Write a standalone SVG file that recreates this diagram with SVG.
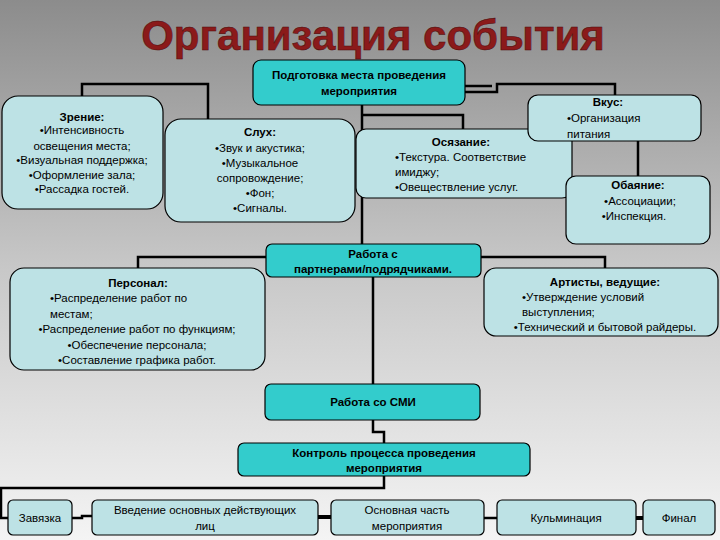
<svg xmlns="http://www.w3.org/2000/svg" width="720" height="540" viewBox="0 0 720 540">
<defs>
<linearGradient id="bg" x1="0" y1="0" x2="0" y2="1">
<stop offset="0" stop-color="#8c8c8c"/><stop offset="0.5" stop-color="#c8c8c8"/><stop offset="1" stop-color="#f4f4f4"/>
</linearGradient>
<style>
.t{font-family:"Liberation Sans",Arial,sans-serif;font-size:11.5px;fill:#000;text-anchor:middle}
.s{text-anchor:start}
.b{font-weight:bold}
.lt{fill:#bde2e5;stroke:#000;stroke-width:1.2}
.dk{fill:#33cccc;stroke:#000;stroke-width:1.2}
.c{fill:none;stroke:#000;stroke-width:2.5}
</style>
</defs>
<rect width="720" height="540" fill="url(#bg)"/>
<text x="373" y="50" font-family="Liberation Sans,Arial,sans-serif" font-size="42" font-weight="bold" fill="#8b1a1a" stroke="#4a0a0a" stroke-width="0.5" text-anchor="middle">Организация события</text>
<g id="connectors" class="c">
<polyline points="82,96 82,84 208,84 208,119"/>
<polyline points="362,105 362,244"/>
<polyline points="362,115 463,115 463,129"/>
<polyline points="465,92 497,92 497,84 615,84 615,95"/>
<polyline points="465,86 492,86"/>
<polyline points="638,141 638,176"/>
<polyline points="266,257 138,257 138,268"/>
<polyline points="481,257 605,257 605,268"/>
<polyline points="373,277 373,384"/>
<polyline points="373,420 373,432 384,432 384,443"/>
<polyline points="384,476 384,488 1,488 1,518 8,518"/>
<polyline points="72,518 82,518 82,516 92,516"/>
<polyline points="318,517 331,517" stroke-width="4"/>
<polyline points="484,518 497,518"/>
<polyline points="636,518 643,518" stroke-width="4"/>
</g>
<g id="top"><rect class="dk" x="253" y="60" width="212" height="45" rx="8"/><text class="t b" x="359" y="79">Подготовка места проведения</text><text class="t b" x="359" y="95">мероприятия</text></g>
<g id="zrenie"><rect class="lt" x="2" y="96" width="161" height="113" rx="16"/><text class="t b" x="82" y="121">Зрение:</text><text class="t" font-size="10.5"><tspan x="82" y="134">•Интенсивность</tspan><tspan x="82" y="150">освещения места;</tspan><tspan x="82" y="164">•Визуальная поддержка;</tspan><tspan x="82" y="179">•Оформление зала;</tspan><tspan x="82" y="193">•Рассадка гостей.</tspan></text></g>
<g id="sluh"><rect class="lt" x="165" y="119" width="190" height="103" rx="16"/><text class="t b" x="260" y="136">Слух:</text><text class="t"><tspan x="260" y="152">•Звук и акустика;</tspan><tspan x="260" y="167">•Музыкальное</tspan><tspan x="260" y="182">сопровождение;</tspan><tspan x="260" y="197">•Фон;</tspan><tspan x="260" y="212">•Сигналы.</tspan></text></g>
<g id="osyazanie"><rect class="lt" x="356" y="129" width="216" height="69" rx="10"/><text class="t b" x="461" y="146">Осязание:</text><text class="t s"><tspan x="395" y="161">•Текстура. Соответствие</tspan><tspan x="395" y="176">имиджу;</tspan><tspan x="395" y="191">•Овеществление услуг.</tspan></text></g>
<g id="vkus"><rect class="lt" x="528" y="95" width="173" height="46" rx="10"/><text class="t b" x="608" y="106">Вкус:</text><text class="t s"><tspan x="567" y="122">•Организация</tspan><tspan x="567" y="138">питания</tspan></text></g>
<g id="obayanie"><rect class="lt" x="566" y="176" width="144" height="68" rx="10"/><text class="t b" x="638" y="189">Обаяние:</text><text class="t"><tspan x="640" y="205">•Ассоциации;</tspan><tspan x="634" y="220">•Инспекция.</tspan></text></g>
<g id="partnery"><rect class="dk" x="266" y="244" width="215" height="33" rx="6"/><text class="t b" x="373" y="258">Работа с</text><text class="t b" x="373" y="273">партнерами/подрядчиками.</text></g>
<g id="personal"><rect class="lt" x="10" y="268" width="255" height="102" rx="14"/><text class="t b" x="138" y="287">Персонал:</text><text class="t s"><tspan x="50" y="302">•Распределение работ по</tspan><tspan x="50" y="318">местам;</tspan></text><text class="t"><tspan x="137" y="333">•Распределение работ по функциям;</tspan><tspan x="137" y="349">•Обеспечение персонала;</tspan><tspan x="137" y="364">•Составление графика работ.</tspan></text></g>
<g id="artisty"><rect class="lt" x="484" y="268" width="234" height="68" rx="12"/><text class="t b" x="605" y="286">Артисты, ведущие:</text><text class="t s"><tspan x="522" y="301">•Утверждение условий</tspan><tspan x="522" y="316">выступления;</tspan></text><text class="t" x="605" y="331">•Технический и бытовой райдеры.</text></g>
<g id="smi"><rect class="dk" x="265" y="384" width="215" height="36" rx="6"/><text class="t b" x="373" y="406">Работа со СМИ</text></g>
<g id="kontrol"><rect class="dk" x="238" y="443" width="292" height="33" rx="6"/><text class="t b" x="384" y="457">Контроль процесса проведения</text><text class="t b" x="384" y="472">мероприятия</text></g>
<g id="zavyazka"><rect class="lt" x="8" y="500" width="64" height="35" rx="5"/><text class="t" x="40" y="522">Завязка</text></g>
<g id="vvedenie"><rect class="lt" x="92" y="500" width="226" height="35" rx="5"/><text class="t" x="205" y="514">Введение основных действующих</text><text class="t" x="205" y="530">лиц</text></g>
<g id="osnovnaya"><rect class="lt" x="331" y="500" width="153" height="35" rx="5"/><text class="t" x="407" y="514">Основная часть</text><text class="t" x="407" y="530">мероприятия</text></g>
<g id="kulminaciya"><rect class="lt" x="497" y="500" width="139" height="35" rx="5"/><text class="t" x="566" y="522">Кульминация</text></g>
<g id="final"><rect class="lt" x="643" y="500" width="72" height="35" rx="5"/><text class="t" x="679" y="522">Финал</text></g>
</svg>
